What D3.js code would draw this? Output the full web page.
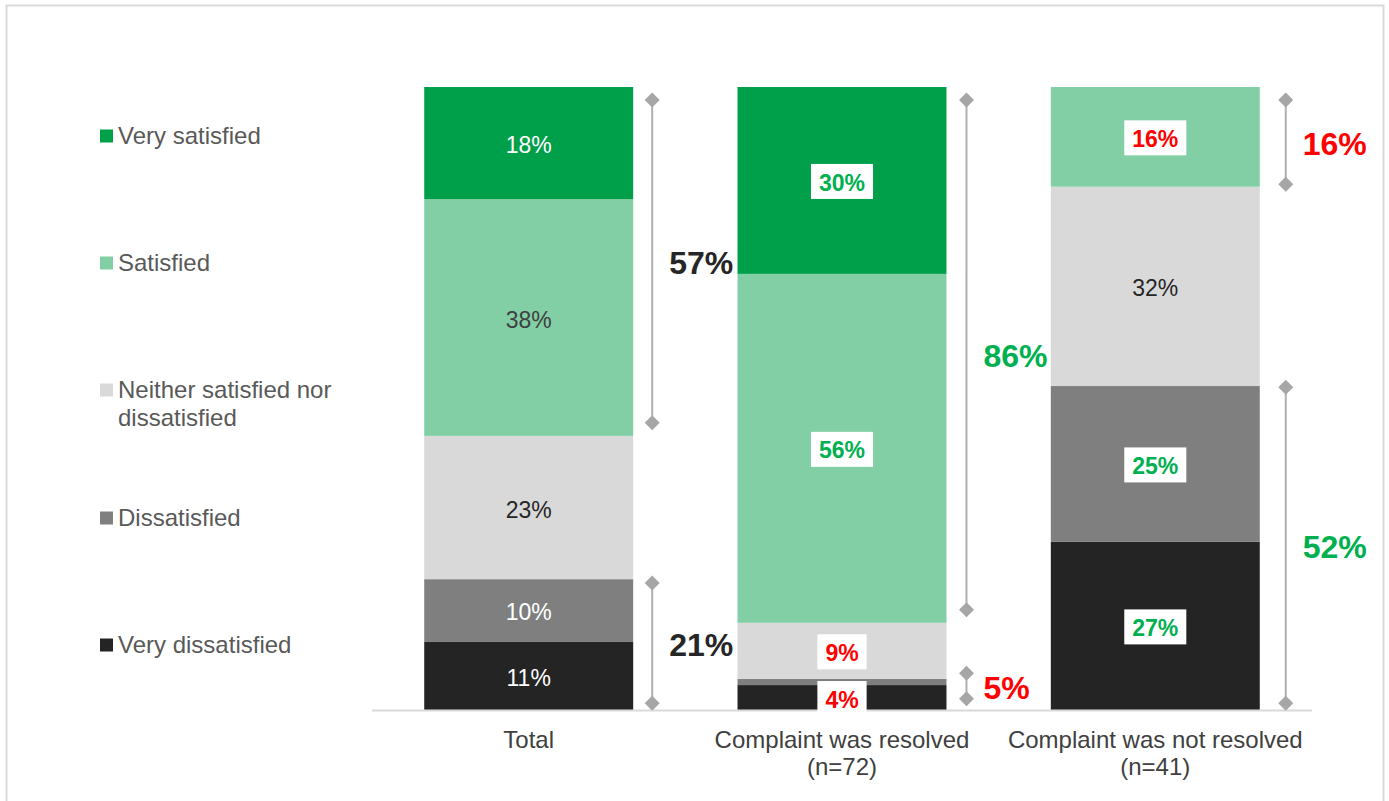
<!DOCTYPE html>
<html><head><meta charset="utf-8">
<script src="https://cdn.jsdelivr.net/npm/d3@7"></script>
<style>body{margin:0;background:#fff;font-family:"Liberation Sans",Arial,sans-serif;}</style>
</head><body>
<svg id="chart" width="1389" height="801"></svg>
<script>
// ---- data ----
const categories = ["Total", "Complaint was resolved|(n=72)", "Complaint was not resolved|(n=41)"];
const seriesNames = ["Very satisfied", "Satisfied", "Neither satisfied nor dissatisfied", "Dissatisfied", "Very dissatisfied"];
const verySatisfied    = [18, 30, 0];
const satisfied        = [38, 56, 16];
const neither          = [23, 9, 32];
const dissatisfied     = [10, 1, 25];
const veryDissatisfied = [11, 4, 27];
// bracket annotations: category index, from/to (percent units), label
const bracketCat   = [0, 0, 1, 1, 2, 2];
const bracketFrom  = [46.1, 1.1, 16.1, 1.8, 84.4, 1.1];
const bracketTo    = [97.9, 20.4, 97.9, 5.9, 97.9, 51.8];
const bracketLabel = ["57%", "21%", "86%", "5%", "16%", "52%"];

// ---- styles ----
const colors = ["#00A04B", "#82CFA6", "#D9D9D9", "#7F7F7F", "#242424"];
const GREEN = "#00B050", RED = "#FF0000";
const bracketColors = ["#262626", "#262626", GREEN, RED, RED, GREEN];
const bracketOffset = [19, 19, 20, 20, 26, 26];
// label styles per [series][category]: [kind, color]
const labelStyle = [
  [["plain", "#fff"], ["box", GREEN], ["none"]],
  [["plain", "#404040"], ["box", GREEN], ["box", RED]],
  [["plain", "#262626"], ["box", RED], ["plain", "#262626"]],
  [["plain", "#fff"], ["none"], ["box", GREEN]],
  [["plain", "#fff"], ["box", RED], ["box", GREEN]]
];

const svg = d3.select("#chart");
// outer border
svg.append("rect").attr("x", 6.5).attr("y", 5.5).attr("width", 1377).attr("height", 800)
  .attr("fill", "none").attr("stroke", "#D9D9D9").attr("stroke-width", 2);

const x = d3.scaleBand().domain(d3.range(categories.length)).range([372, 1312])
  .paddingInner(0.333).paddingOuter(0.1667);
const y = d3.scaleLinear().domain([0, 100]).range([710, 87]);

const rows = categories.map((c, i) => ({
  i, s0: verySatisfied[i], s1: satisfied[i], s2: neither[i], s3: dissatisfied[i], s4: veryDissatisfied[i]
}));
const keys = ["s4", "s3", "s2", "s1", "s0"]; // bottom to top
const stack = d3.stack().keys(keys)(rows);

const g = svg.append("g");
stack.forEach(layer => {
  const si = +layer.key.slice(1);
  g.selectAll(null).data(layer).join("rect")
    .attr("x", d => x(d.data.i))
    .attr("width", x.bandwidth())
    .attr("y", d => y(d[1]))
    .attr("height", d => y(d[0]) - y(d[1]))
    .attr("fill", colors[si]);
});

// axis line
svg.append("line").attr("x1", 372).attr("x2", 1312).attr("y1", 710.5).attr("y2", 710.5)
  .attr("stroke", "#D9D9D9").attr("stroke-width", 2);

// segment labels
stack.forEach(layer => {
  const si = +layer.key.slice(1);
  layer.forEach(d => {
    const ci = d.data.i;
    const st = labelStyle[si][ci];
    const v = d[1] - d[0];
    if (!v || st[0] === "none") return;
    const cx = x(ci) + x.bandwidth() / 2;
    const cy = (y(d[0]) + y(d[1])) / 2;
    const lg = svg.append("g");
    const t = lg.append("text").attr("x", cx).attr("y", cy + 2).attr("dy", "0.35em")
      .attr("text-anchor", "middle").attr("font-size", 23).attr("fill", st[1])
      .text(v + "%");
    if (st[0] === "box") {
      t.attr("font-weight", "bold");
      const bb = t.node().getBBox();
      lg.insert("rect", "text").attr("x", cx - bb.width / 2 - 8).attr("y", cy - 16.5)
        .attr("width", bb.width + 16).attr("height", 35).attr("fill", "#fff");
    }
  });
});

// x axis labels
categories.forEach((c, i) => {
  const t = svg.append("text").attr("x", x(i) + x.bandwidth() / 2).attr("y", 748)
    .attr("text-anchor", "middle").attr("font-size", 24).attr("fill", "#404040");
  c.split("|").forEach((line, k) => {
    t.append("tspan").attr("x", x(i) + x.bandwidth() / 2).attr("dy", k ? 27 : 0).text(line);
  });
});

// brackets
const diamond = (cx, cy, r) => `M${cx},${cy - r}L${cx + r},${cy}L${cx},${cy + r}L${cx - r},${cy}Z`;
bracketLabel.forEach((lab, k) => {
  const ci = bracketCat[k];
  const bx = x(ci) + x.bandwidth() + bracketOffset[k];
  const y0 = y(bracketFrom[k]), y1 = y(bracketTo[k]);
  svg.append("line").attr("x1", bx).attr("x2", bx).attr("y1", y0).attr("y2", y1)
    .attr("stroke", "#B0B0B0").attr("stroke-width", 2);
  [y0, y1].forEach(yy => svg.append("path").attr("d", diamond(bx, yy, 7.5)).attr("fill", "#A6A6A6"));
  svg.append("text").attr("x", bx + 17).attr("y", (y0 + y1) / 2 + 1).attr("dy", "0.36em")
    .attr("font-size", 32).attr("font-weight", "bold").attr("fill", bracketColors[k]).text(lab);
});

// legend
const legendY = [136, 263, 390, 518, 645];
seriesNames.forEach((n, i) => {
  svg.append("rect").attr("x", 100).attr("y", legendY[i] - 6.5).attr("width", 13).attr("height", 13)
    .attr("fill", colors[i]);
  const t = svg.append("text").attr("x", 118).attr("y", legendY[i])
    .attr("font-size", 24).attr("fill", "#595959");
  const lines = i === 2 ? ["Neither satisfied nor", "dissatisfied"] : [n];
  lines.forEach((l, k) => t.append("tspan").attr("x", 118).attr("dy", k ? 28 : "0.35em").text(l));
});
</script>
</body></html>
